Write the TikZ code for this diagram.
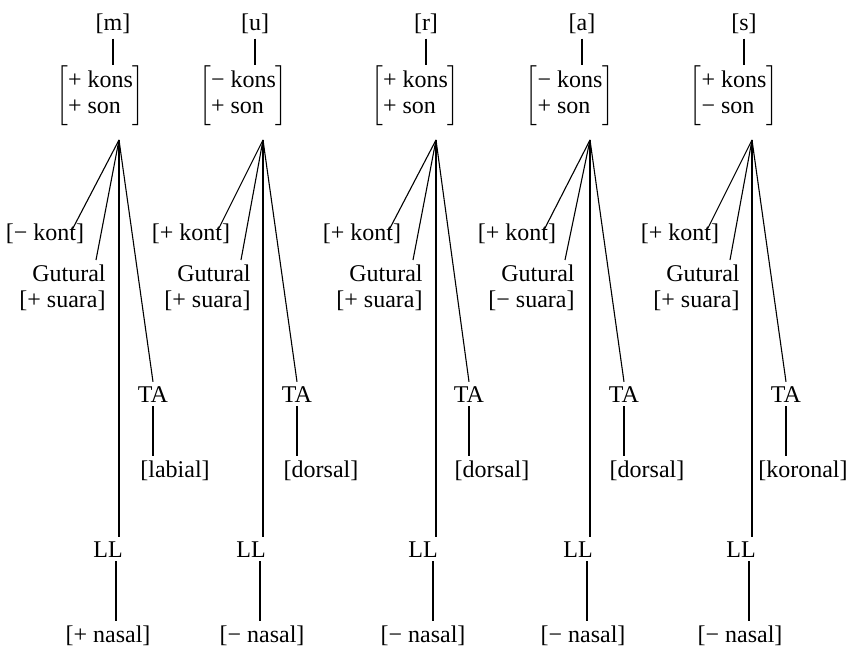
\documentclass[tikz,border=0pt]{standalone}
\usepackage{fontspec}
\setmainfont{Liberation Serif}
\usepackage{tikz}
\usetikzlibrary{calc}
\newcommand{\fmat}[2]{$\left[\vcenter{\hbox{\rule{0pt}{30pt}}}\begin{tabular}{@{}l@{}}#1 kons\\#2 son\end{tabular}\right]$}
\tikzset{
	lbl/.style   ={inner sep=2pt, anchor=base},
	fmatrix/.style={inner sep=0pt},
	gut/.style   ={inner sep=2pt, align=right, anchor=north east},
	branch/.style={line width=0.55pt},
}

\begin{document}
\begin{tikzpicture}[x=0.5pt, y=-0.5pt, font=\fontsize{12}{13}\selectfont]
	\useasboundingbox (0,0) rectangle (852,647);
	% [m]
	\node[lbl] (s1) at (113,31) {[m]};
	\node[fmatrix] (m1) at (100.5,95.5) {\fmat{+}{+}};
	\coordinate (a1) at (119,140);
	\node[lbl] (k1) at (45,241) {[− kont]};
	\node[gut] (g1) at (110,260) {Gutural\\ {[+ suara]}};
	\node[lbl] (t1) at (153,402) {TA};
	\node[lbl] (p1) at (175,477) {[labial]};
	\node[lbl] (l1) at (108,557) {LL};
	\node[lbl] (n1) at (108,642) {[+ nasal]};
	% [u]
	\node[lbl] (s2) at (255,31) {[u]};
	\node[fmatrix] (m2) at (243.5,95.5) {\fmat{−}{+}};
	\coordinate (a2) at (263,140);
	\node[lbl] (k2) at (191,241) {[+ kont]};
	\node[gut] (g2) at (255,260) {Gutural\\ {[+ suara]}};
	\node[lbl] (t2) at (297,402) {TA};
	\node[lbl] (p2) at (321,477) {[dorsal]};
	\node[lbl] (l2) at (251,557) {LL};
	\node[lbl] (n2) at (262,642) {[− nasal]};
	% [r]
	\node[lbl] (s3) at (426,31) {[r]};
	\node[fmatrix] (m3) at (415.5,95.5) {\fmat{+}{+}};
	\coordinate (a3) at (436,140);
	\node[lbl] (k3) at (362,241) {[+ kont]};
	\node[gut] (g3) at (427,260) {Gutural\\ {[+ suara]}};
	\node[lbl] (t3) at (469,402) {TA};
	\node[lbl] (p3) at (492,477) {[dorsal]};
	\node[lbl] (l3) at (423,557) {LL};
	\node[lbl] (n3) at (423,642) {[− nasal]};
	% [a]
	\node[lbl] (s4) at (582,31) {[a]};
	\node[fmatrix] (m4) at (570,95.5) {\fmat{−}{+}};
	\coordinate (a4) at (590,140);
	\node[lbl] (k4) at (517,241) {[+ kont]};
	\node[gut] (g4) at (579,260) {Gutural\\ {[− suara]}};
	\node[lbl] (t4) at (624,402) {TA};
	\node[lbl] (p4) at (647,477) {[dorsal]};
	\node[lbl] (l4) at (578,557) {LL};
	\node[lbl] (n4) at (583,642) {[− nasal]};
	% [s]
	\node[lbl] (s5) at (744,31) {[s]};
	\node[fmatrix] (m5) at (734,95.5) {\fmat{+}{−}};
	\coordinate (a5) at (752,140);
	\node[lbl] (k5) at (680,241) {[+ kont]};
	\node[gut] (g5) at (744,260) {Gutural\\ {[+ suara]}};
	\node[lbl] (t5) at (786,402) {TA};
	\node[lbl] (p5) at (803,477) {[koronal]};
	\node[lbl] (l5) at (741,557) {LL};
	\node[lbl] (n5) at (740,642) {[− nasal]};
	\foreach \i in {1,...,5}{
		\draw[branch] (s\i.south) -- (s\i.south |- m\i.north);
		\draw[branch] (a\i) -- ($(k\i.base)+(27,-11)$);
		\draw[branch] (a\i) -- ($(g\i.north east)+(-14,0)$);
		\draw[branch] (a\i) -- (t\i.north);
		\draw[branch] (a\i) -- (a\i |- l\i.north);
		\draw[branch] (t\i.south) -- (t\i.south |- p\i.north);
		\draw[branch] ([xshift=-1.5pt]l\i.south -| a\i) -- ([xshift=-1.5pt]n\i.north -| a\i);
	}
\end{tikzpicture}
\end{document}
